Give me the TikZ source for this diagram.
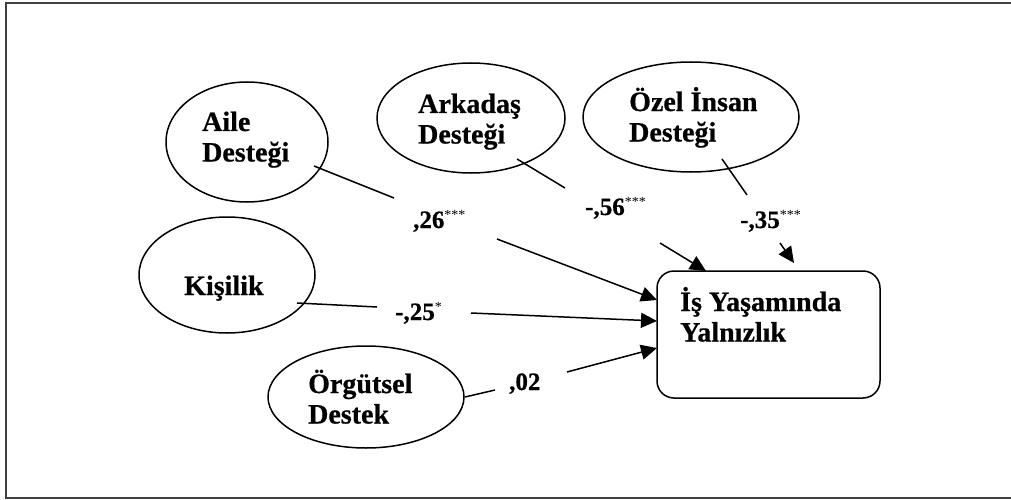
\documentclass[tikz,border=0pt]{standalone}
\usepackage{fontspec}
\setmainfont{Liberation Serif}[BoldFeatures={FakeBold=0.6}]
\usetikzlibrary{shapes.geometric,arrows.meta}
\begin{document}
\begin{tikzpicture}[x=1pt,y=-1pt,
  lat/.style={draw,ellipse,line width=1.5pt,inner sep=0},
  lbl/.style={anchor=base west,inner sep=0,font=\fontsize{28}{30.5}\selectfont\bfseries},
  coef/.style={anchor=base west,inner sep=0,font=\fontsize{25}{28}\selectfont\bfseries},
  conn/.style={line width=1.5pt},
  arr/.style={conn,-{Triangle[length=16pt,width=15pt]}},
  frameline/.style={line width=1.5pt,draw=black!75}]
\newcommand{\stars}[1]{\raisebox{9pt}{\fontsize{14}{14}\selectfont\mdseries #1}}
\useasboundingbox (0,0) rectangle (1011,500);
% frame
\coordinate (f1) at (1011,3);
\coordinate (f2) at (6,3);
\coordinate (f3) at (6,498);
\coordinate (f4) at (1011,498);
\draw[frameline] (f1) -- (f2) -- (f3) -- (f4);
% latent variables
\node[lat,minimum width=162pt,minimum height=120pt] (aile) at (247,142) {};
\node[lat,minimum width=188pt,minimum height=110pt] (ark) at (471,118) {};
\node[lat,minimum width=216pt,minimum height=110pt] (ozel) at (691,117) {};
\node[lat,minimum width=176pt,minimum height=116pt] (kis) at (227,275) {};
\node[lat,minimum width=196pt,minimum height=102pt] (org) at (366,397) {};
\node[draw,line width=1.5pt,rounded corners=17pt,minimum width=223pt,minimum height=127pt,inner sep=0] (box) at (768.5,334.5) {};
% texts
\node[lbl] (taile) at (202,131) {\begin{tabular}[t]{@{}l@{}}Aile\\Desteği\end{tabular}};
\node[lbl] (tark) at (418,113) {\begin{tabular}[t]{@{}l@{}}Arkadaş\\Desteği\end{tabular}};
\node[lbl] (tozel) at (629,111) {\begin{tabular}[t]{@{}l@{}}Özel İnsan\\Desteği\end{tabular}};
\node[lbl] (tkis) at (184,295) {Kişilik};
\node[lbl] (torg) at (308,393) {\begin{tabular}[t]{@{}l@{}}Örgütsel\\Destek\end{tabular}};
\node[lbl] (tbox) at (680,311) {\begin{tabular}[t]{@{}l@{}}İş Yaşamında\\Yalnızlık\end{tabular}};
% coefficients
\node[coef] (c1) at (413,228) {,26\stars{***}};
\node[coef] (c2) at (585,215) {-,56\stars{***}};
\node[coef] (c3) at (740,228) {-,35\stars{***}};
\node[coef] (c4) at (395,320) {-,25\stars{*}};
\node[coef] (c5) at (509,390) {,02};
% connector points
\coordinate (a1) at (314,166); \coordinate (a2) at (394,198);
\coordinate (a3) at (497,239); \coordinate (a4) at (657,300);
\coordinate (b1) at (517,159); \coordinate (b2) at (565,188);
\coordinate (b3) at (660,243); \coordinate (b4) at (706,271);
\coordinate (o1) at (722,159); \coordinate (o2) at (747,195);
\coordinate (o3) at (780,243); \coordinate (o4) at (794,263);
\coordinate (k1) at (297,303); \coordinate (k2) at (377,307);
\coordinate (k3) at (471,313); \coordinate (k4) at (657,321);
\coordinate (g1) at (465,397); \coordinate (g2) at (495,390);
\coordinate (g3) at (567,372); \coordinate (g4) at (657,348);
% connectors
\draw[conn] (a1) -- (a2);
\draw[arr] (a3) -- (a4);
\draw[conn] (b1) -- (b2);
\draw[arr] (b3) -- (b4);
\draw[conn] (o1) -- (o2);
\draw[arr] (o3) -- (o4);
\draw[conn] (k1) -- (k2);
\draw[arr] (k3) -- (k4);
\draw[conn] (g1) -- (g2);
\draw[arr] (g3) -- (g4);
\end{tikzpicture}
\end{document}
